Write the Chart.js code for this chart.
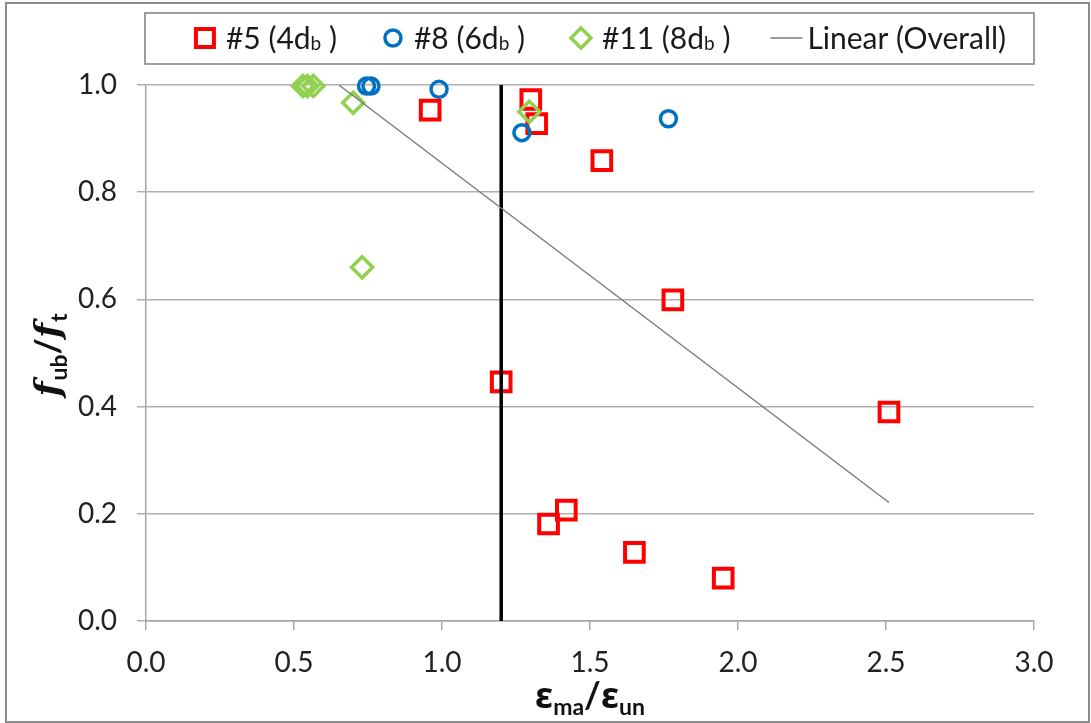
<!DOCTYPE html>
<html>
<head>
<meta charset="utf-8">
<script src="https://cdn.jsdelivr.net/npm/chart.js@4.4.0/dist/chart.umd.min.js"></script>
<style>
  body { margin: 0; background: #fff; }
  #wrap { width: 1091px; height: 723px; }
</style>
</head>
<body>
<div id="wrap"><canvas id="myChart" width="1091" height="723"></canvas></div>
<script>
// values (x = eps_ma/eps_un, y = f_ub/f_t)
const bar5X = [0.96, 1.30, 1.32, 1.54, 1.78, 1.20, 2.51, 1.42, 1.36, 1.65, 1.95];
const bar5Y = [0.953, 0.973, 0.928, 0.859, 0.599, 0.446, 0.390, 0.207, 0.181, 0.128, 0.080];

const bar8X = [0.745, 0.76, 0.99, 1.27, 1.765];
const bar8Y = [0.998, 0.998, 0.992, 0.911, 0.937];

const bar11X = [0.53, 0.545, 0.565, 0.70, 0.73, 1.295];
const bar11Y = [0.998, 0.998, 0.998, 0.967, 0.660, 0.950];

// overall linear trend (clipped at y = 1.0 like the original)
const trendX = [0.652, 2.51];
const trendY = [1.0, 0.221];

// vertical limit line
const limitX = [1.2, 1.2];
const limitY = [0.0, 1.0];

// legend labels, "_x" = subscript char
const seriesNames = ['#5 (4d_b )', '#8 (6d_b )', '#11 (8d_b )', 'Linear (Overall)'];
const xTicks = [0, 0.5, 1.0, 1.5, 2.0, 2.5, 3.0];
const yTicks = [0, 0.2, 0.4, 0.6, 0.8, 1.0];

const toPts = (xs, ys) => xs.map((x, i) => ({x: x, y: ys[i]}));

const RED = '#FF0000', BLUE = '#0070C0', GREEN = '#92D050', TREND = '#7a7a7a';
const TICK_FONT = 'Lato';

// split "abc_d" into parts with subscripts
const parseRich = s => {
    const parts = [];
    let buf = '';
    for (let i = 0; i < s.length; i++) {
        if (s[i] === '_' && i + 1 < s.length) {
            if (buf) parts.push({t: buf, sub: false});
            buf = '';
            parts.push({t: s[i + 1], sub: true});
            i++;
        } else {
            buf += s[i];
        }
    }
    if (buf) parts.push({t: buf, sub: false});
    return parts;
};

// draws a list of {t, font, dy} pieces left to right, returns width
const drawPieces = (ctx, pieces, x, y, measureOnly) => {
    let w = 0;
    pieces.forEach(p => {
        ctx.font = p.font;
        if (!measureOnly) ctx.fillText(p.t, x + w, y + (p.dy || 0));
        w += ctx.measureText(p.t).width + (p.kern || 0);
    });
    return w;
};

const drawMarker = (ctx, kind, cx, cy) => {
    ctx.save();
    ctx.beginPath();
    if (kind === 'rect') {
        ctx.strokeStyle = RED; ctx.lineWidth = 4;
        ctx.rect(cx - 9, cy - 9, 18, 18);
    } else if (kind === 'circle') {
        ctx.strokeStyle = BLUE; ctx.lineWidth = 3.5;
        ctx.arc(cx, cy, 8, 0, Math.PI * 2);
    } else if (kind === 'rectRot') {
        ctx.strokeStyle = GREEN; ctx.lineWidth = 3.5;
        ctx.moveTo(cx, cy - 10); ctx.lineTo(cx + 10, cy); ctx.lineTo(cx, cy + 10); ctx.lineTo(cx - 10, cy); ctx.closePath();
    } else {
        ctx.strokeStyle = TREND; ctx.lineWidth = 1.5;
        ctx.moveTo(cx - 16, cy); ctx.lineTo(cx + 16, cy);
    }
    ctx.stroke();
    ctx.restore();
};

const framePlugin = {
    id: 'frame',
    beforeDraw(chart) {
        const ctx = chart.ctx;
        ctx.save();
        ctx.fillStyle = '#fff';
        ctx.fillRect(0, 0, chart.width, chart.height);
        ctx.restore();
    },
    afterDraw(chart) {
        const ctx = chart.ctx;
        const area = chart.chartArea;
        ctx.save();
        // outer chart border
        ctx.strokeStyle = '#8c8c8c';
        ctx.lineWidth = 2;
        ctx.strokeRect(6, 3, 1083, 719);

        // legend box
        const boxL = area.left - 1, boxR = area.right, boxT = 13, boxB = 64;
        ctx.strokeStyle = '#7f7f7f';
        ctx.lineWidth = 1.5;
        ctx.strokeRect(boxL, boxT, boxR - boxL, boxB - boxT);

        const kinds = ['rect', 'circle', 'rectRot', 'line'];
        const fontMain = '30px ' + TICK_FONT, fontSub = '19px ' + TICK_FONT;
        const items = seriesNames.map(name => parseRich(name).map(p => ({
            t: p.t, font: p.sub ? fontSub : fontMain, dy: p.sub ? 5 : 0
        })));
        const markW = 32, markGap = 5, itemGap = 40;
        const widths = items.map(pc => drawPieces(ctx, pc, 0, 0, true));
        let total = widths.reduce((a, b) => a + b, 0) + items.length * (markW + markGap) + (items.length - 1) * itemGap;
        let x = (boxL + boxR) / 2 - total / 2 + 8;
        const cy = 38;
        ctx.fillStyle = '#1a1a1a';
        ctx.textBaseline = 'middle';
        items.forEach((pc, i) => {
            drawMarker(ctx, kinds[i], x + markW / 2, cy);
            x += markW + markGap;
            drawPieces(ctx, pc, x, cy + 1, false);
            x += widths[i] + itemGap;
        });

        // x axis title
        ctx.textBaseline = 'alphabetic';
        ctx.fillStyle = '#111';
        const xt = [
            {t: 'ε', font: 'bold 36px "Noto Sans"'},
            {t: 'ma', font: 'bold 23px Lato', dy: 7},
            {t: '/', font: 'bold 36px Lato'},
            {t: 'ε', font: 'bold 36px "Noto Sans"'},
            {t: 'un', font: 'bold 23px Lato', dy: 7}
        ];
        const xw = drawPieces(ctx, xt, 0, 0, true);
        drawPieces(ctx, xt, (area.left + area.right) / 2 - xw / 2, 708, false);

        // y axis title, rotated
        const yt = [
            {t: 'f', font: 'italic bold 35px "DejaVu Serif"', kern: 1},
            {t: 'ub', font: 'bold 23px Lato', dy: 7},
            {t: '/', font: 'bold 35px Lato'},
            {t: 'f', font: 'italic bold 35px "DejaVu Serif"', kern: 1},
            {t: 't', font: 'bold 23px Lato', dy: 7}
        ];
        const yw = drawPieces(ctx, yt, 0, 0, true);
        ctx.translate(60, (area.top + area.bottom) / 2 + 2);
        ctx.rotate(-Math.PI / 2);
        drawPieces(ctx, yt, -yw / 2, 0, false);
        ctx.restore();
    }
};

const config = {
    type: 'scatter',
    data: {
        datasets: [
            {
                label: seriesNames[3],
                data: toPts(trendX, trendY),
                showLine: true,
                borderColor: TREND,
                borderWidth: 1.4,
                pointRadius: 0,
                clip: false
            },
            {
                label: 'limit',
                data: toPts(limitX, limitY),
                showLine: true,
                borderColor: '#000',
                borderWidth: 3.5,
                pointRadius: 0,
                clip: false
            },
            {
                label: seriesNames[2],
                data: toPts(bar11X, bar11Y),
                pointStyle: 'rectRot',
                pointRadius: 10.5,
                borderColor: GREEN,
                backgroundColor: 'rgba(0,0,0,0)',
                borderWidth: 3.5,
                clip: false
            },
            {
                label: seriesNames[1],
                data: toPts(bar8X, bar8Y),
                pointStyle: 'circle',
                pointRadius: 8,
                borderColor: BLUE,
                backgroundColor: 'rgba(0,0,0,0)',
                borderWidth: 3.5,
                clip: false
            },
            {
                label: seriesNames[0],
                data: toPts(bar5X, bar5Y),
                pointStyle: 'rect',
                pointRadius: 13.2,
                borderColor: RED,
                backgroundColor: 'rgba(0,0,0,0)',
                borderWidth: 4,
                clip: false
            }
        ]
    },
    options: {
        responsive: false,
        animation: false,
        events: [],
        layout: {
            padding: {left: 0, top: 85, right: 57, bottom: 0}
        },
        plugins: {
            legend: {display: false},
            tooltip: {enabled: false}
        },
        scales: {
            x: {
                type: 'linear',
                min: 0,
                max: 3,
                afterFit: scale => { scale.height = 102; },
                afterBuildTicks: scale => { scale.ticks = xTicks.map(v => ({value: v})); },
                ticks: {
                    callback: v => v.toFixed(1),
                    font: {family: TICK_FONT, size: 28},
                    color: '#222',
                    padding: 16,
                    maxRotation: 0
                },
                grid: {
                    drawOnChartArea: false,
                    drawTicks: true,
                    tickLength: 9,
                    color: '#a6a6a6',
                    lineWidth: 1.5
                },
                border: {display: true, color: '#a6a6a6', width: 1.5}
            },
            y: {
                type: 'linear',
                min: 0,
                max: 1,
                afterFit: scale => { scale.width = 146; },
                afterBuildTicks: scale => { scale.ticks = yTicks.map(v => ({value: v})); },
                ticks: {
                    callback: v => v.toFixed(1),
                    font: {family: TICK_FONT, size: 28},
                    color: '#222',
                    padding: 20
                },
                grid: {
                    drawTicks: true,
                    tickLength: 9,
                    color: '#b0b0b0',
                    lineWidth: 1.5
                },
                border: {display: true, color: '#a6a6a6', width: 1.5}
            }
        }
    },
    plugins: [framePlugin]
};

const myChart = new Chart(document.getElementById('myChart'), config);
</script>
</body>
</html>
